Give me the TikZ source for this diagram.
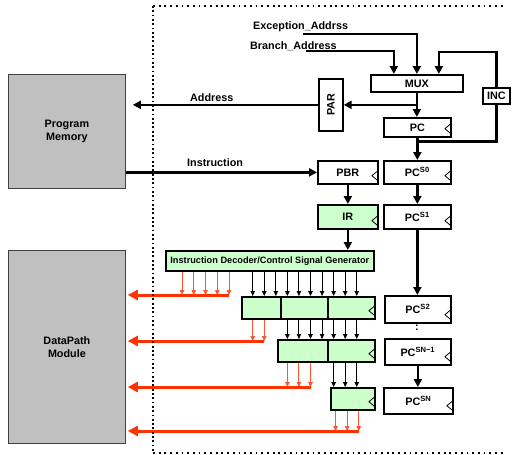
\documentclass[tikz,border=0pt]{standalone}
\usepackage{fontspec}
\usepackage{graphicx}
\setmainfont{Liberation Sans}
\usetikzlibrary{arrows.meta,shadows}
\definecolor{boxgreen}{HTML}{CCFFCC}
\definecolor{memgray}{HTML}{C0C0C0}
\definecolor{busred}{HTML}{FF3300}
\definecolor{sigred}{HTML}{FF5533}
\begin{document}
\begin{tikzpicture}[x=1pt,y=-1pt,
  font=\fontsize{10.8}{12.5}\selectfont\bfseries,
  box/.style={draw=black, line width=1.7pt, fill=white, inner sep=0pt, anchor=north west,
    drop shadow={shadow xshift=1.2pt,shadow yshift=-1.2pt,fill=black!45,opacity=1}},
  greenbox/.style={box, fill=boxgreen},
  membox/.style={draw=black!75, line width=0.8pt, fill=memgray, inner sep=0pt, anchor=north west, align=center},
  thk/.style={line width=2.7pt, -{Triangle[length=8pt,width=8pt]}},
  thkline/.style={line width=2.7pt},
  thinarr/.style={line width=0.9pt, -{Triangle[length=5pt,width=4.5pt]}},
  rthin/.style={line width=0.9pt, draw=sigred, fill=sigred, -{Triangle[length=5pt,width=4.5pt]}},
  rbus/.style={line width=3pt, draw=busred, -{Triangle[length=10pt,width=10pt]}},
  clk/.style={line width=0.8pt},
  lbl/.style={anchor=base west, inner sep=0pt}
]
\useasboundingbox (0,0) rectangle (512,455);

% memories
\node[membox, minimum width=117pt, minimum height=114pt] (pm) at (8,74) {Program\\Memory};
\node[membox, minimum width=117pt, minimum height=193pt] (dp) at (8,250) {DataPath\\Module};

% boxes
\node[box, minimum width=92pt, minimum height=17pt] (mux) at (370,74) {MUX};
\node[box, minimum width=24pt, minimum height=52pt] (par) at (318,78) {\rotatebox{90}{PAR}};
\node[box, minimum width=27pt, minimum height=16pt] (inc) at (482,87) {INC};
\node[box, minimum width=67pt, minimum height=19pt] (pc) at (383,117) {PC};
\node[box, minimum width=60pt, minimum height=23pt] (pbr) at (317,160) {PBR};
\node[box, minimum width=67pt, minimum height=23pt] (pcs0) at (383,160) {PC\textsuperscript{S0}};
\node[greenbox, minimum width=60pt, minimum height=24pt] (ir) at (317,204) {IR};
\node[box, minimum width=67pt, minimum height=24pt] (pcs1) at (383,204) {PC\textsuperscript{S1}};
\node[greenbox, minimum width=208pt, minimum height=20pt, font=\fontsize{9.2}{10}\selectfont\bfseries] (dec) at (165,250) {Instruction Decoder/Control Signal Generator};
\node[greenbox, minimum width=133pt, minimum height=22pt] (r1) at (241,296) {};
\node[greenbox, minimum width=97pt, minimum height=22pt] (r2) at (277,339) {};
\node[greenbox, minimum width=44pt, minimum height=22pt] (r3) at (330,387) {};
\node[box, minimum width=66pt, minimum height=27pt] (pcs2) at (384,295) {PC\textsuperscript{S2}};
\node[box, minimum width=66pt, minimum height=26pt] (pcsn1) at (384,338) {PC\textsuperscript{SN−1}};
\node[box, minimum width=69pt, minimum height=26pt] (pcsn) at (383,387) {PC\textsuperscript{SN}};
\node (vdots) at (417,328) {:};

% dividers
\draw[line width=1.7pt] (281,0 |- r1.north) -- (281,0 |- r1.south);
\draw[line width=1.7pt] (328,0 |- r1.north) -- (328,0 |- r1.south);
\draw[line width=1.7pt] (328,0 |- r2.north) -- (328,0 |- r2.south);

% clock marks
\foreach \n in {pc,pbr,pcs0,ir,pcs1,r1,r2,r3,pcs2,pcsn1,pcsn}
  \draw[clk] ([xshift=-0.8pt,yshift=4pt]\n.south east) -- ++(-6,-5) -- ++(6,-5);

% labels
\node[lbl] (lex) at (253,30) {Exception\_Addrss};
\node[lbl] (lbr) at (250,49) {Branch\_Address};
\node[lbl] (lad) at (190,101) {Address};
\node[lbl] (lin) at (187,166) {Instruction};

% thick connectors
\coordinate (exA) at (303,34);
\coordinate (brA) at (306,51);
\draw[thk] (exA) -| (mux.north);
\draw[thk] (brA) -| ([xshift=-23pt]mux.north);
\draw[thk] (inc.north) |- ([xshift=22pt,yshift=22pt]mux.north) -- ([xshift=22pt]mux.north);
\draw[thk] (mux.south) -- (mux.south |- pc.north);
\draw[thk] (mux.south |- par.east) -- (par.east);
\draw[thk] (par.west) -- ([xshift=7pt]pm.east |- par.west);
\draw[thk] (pm.east |- pbr.west) -- (pbr.west);
\draw[thk] (pc.south) -- (pcs0.north);
\draw[thkline] ([yshift=-4pt]pc.south) -| (inc.south);
\draw[thk] (pbr) -- (ir);
\draw[thk] (ir.south) -- (ir.south |- dec.north);
\draw[thk] (pcs0) -- (pcs1);
\draw[thk] (pcs1.south) -- (pcs1.south |- pcs2.north);
\draw[thk] (pcsn1.south) -- (pcsn1.south |- pcsn.north);

% bus end coordinates
\coordinate (b1) at (229,295);
\coordinate (b2) at (264.3,341);
\coordinate (b3) at (310.5,387);
\coordinate (b4) at (358.7,431);

% thin control arrows
\foreach \k [evaluate=\k as \x using 252.7+11.56*\k] in {0,...,9}
  \draw[thinarr] (\x,0 |- dec.south) -- (\x,0 |- r1.north);
\foreach \k [evaluate=\k as \x using 252.7+11.56*\k] in {3,...,9}
  \draw[thinarr] (\x,0 |- r1.south) -- (\x,0 |- r2.north);
\foreach \k [evaluate=\k as \x using 252.7+11.56*\k] in {7,8,9}
  \draw[thinarr] (\x,0 |- r2.south) -- (\x,0 |- r3.north);

\foreach \k [evaluate=\k as \x using 182+11.75*\k] in {0,...,4}
  \draw[rthin] (\x,0 |- dec.south) -- (\x,0 |- b1);
\foreach \k [evaluate=\k as \x using 252.7+11.56*\k] in {0,1}
  \draw[rthin] (\x,0 |- r1.south) -- (\x,0 |- b2);
\foreach \k [evaluate=\k as \x using 252.7+11.56*\k] in {3,4,5}
  \draw[rthin] (\x,0 |- r2.south) -- (\x,0 |- b3);
\foreach \k [evaluate=\k as \x using 254.7+11.56*\k] in {7,8,9}
  \draw[rthin] (\x,0 |- r3.south) -- (\x,0 |- b4);

% red buses
\draw[rbus] (b1) -- ([xshift=2pt]dp.east |- b1);
\draw[rbus] (b2) -- ([xshift=2pt]dp.east |- b2);
\draw[rbus] (b3) -- ([xshift=2pt]dp.east |- b3);
\draw[rbus] (b4) -- ([xshift=2pt]dp.east |- b4);

% dotted frame
\draw[line width=1.8pt, dash pattern=on 1.8pt off 2.5pt] (153,6) -- (153,453);
\draw[line width=1.8pt, dash pattern=on 1.8pt off 3.9pt] (153,6) -- (506,6);
\draw[line width=1.8pt, dash pattern=on 1.8pt off 3.9pt] (153,453) -- (506,453);
\end{tikzpicture}
\end{document}
